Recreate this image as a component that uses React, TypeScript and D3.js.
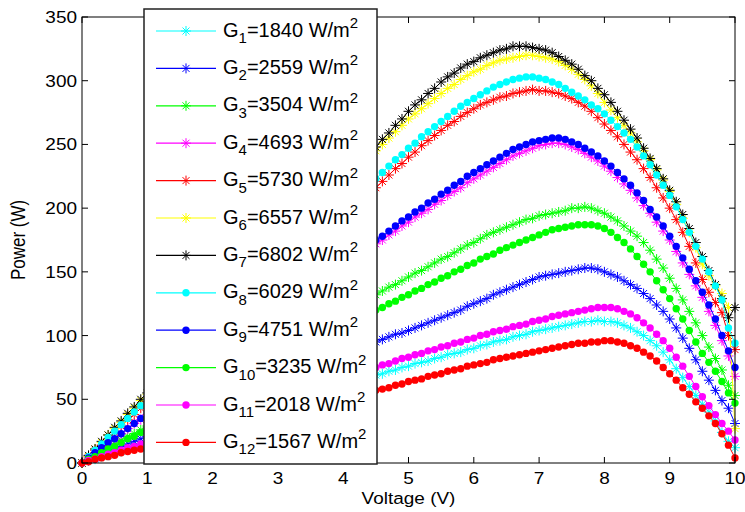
import React from "react";
import * as d3 from "d3";

const voltage = [
  0, 0.1, 0.2, 0.3, 0.4, 0.5, 0.6, 0.7, 0.8, 0.9,
  1, 1.1, 1.2, 1.3, 1.4, 1.5, 1.6, 1.7, 1.8, 1.9,
  2, 2.1, 2.2, 2.3, 2.4, 2.5, 2.6, 2.7, 2.8, 2.9,
  3, 3.1, 3.2, 3.3, 3.4, 3.5, 3.6, 3.7, 3.8, 3.9,
  4, 4.1, 4.2, 4.3, 4.4, 4.5, 4.6, 4.7, 4.8, 4.9,
  5, 5.1, 5.2, 5.3, 5.4, 5.5, 5.6, 5.7, 5.8, 5.9,
  6, 6.1, 6.2, 6.3, 6.4, 6.5, 6.6, 6.7, 6.8, 6.9,
  7, 7.1, 7.2, 7.3, 7.4, 7.5, 7.6, 7.7, 7.8, 7.9,
  8, 8.1, 8.2, 8.3, 8.4, 8.5, 8.6, 8.7, 8.8, 8.9,
  9, 9.1, 9.2, 9.3, 9.4, 9.5, 9.6, 9.7, 9.8, 9.9,
  10,
];

const g1 = [
  0, 2, 3, 5, 6, 8, 9, 11, 12, 14,
  15, 17, 18, 20, 21, 23, 24, 26, 28, 29,
  31, 32, 34, 35, 37, 38, 40, 41, 43, 44,
  46, 47, 49, 50, 52, 53, 55, 57, 58, 60,
  61, 63, 64, 66, 67, 69, 70, 72, 73, 75,
  76, 78, 79, 80, 82, 83, 85, 86, 87, 89,
  90, 92, 93, 95, 96, 97, 99, 100, 101, 103,
  104, 105, 106, 107, 108, 109, 110, 111, 111, 112,
  111, 111, 110, 108, 106, 103, 100, 96, 92, 87,
  81, 74, 67, 60, 53, 46, 40, 33, 24, 17,
  12,
];
const g2 = [
  0, 2, 4, 6, 8, 11, 13, 15, 17, 19,
  21, 23, 25, 27, 30, 32, 34, 36, 38, 40,
  42, 44, 46, 49, 51, 53, 55, 57, 59, 61,
  63, 65, 68, 70, 72, 74, 76, 78, 80, 82,
  84, 86, 88, 90, 93, 95, 97, 99, 101, 102,
  104, 106, 108, 110, 112, 114, 116, 118, 120, 123,
  125, 127, 129, 132, 134, 136, 138, 140, 142, 144,
  146, 147, 148, 149, 150, 151, 152, 153, 153, 152,
  150, 148, 146, 143, 140, 137, 133, 129, 124, 119,
  113, 106, 98, 90, 81, 72, 65, 57, 49, 43,
  31,
];
const g3 = [
  0, 3, 6, 9, 12, 15, 18, 21, 23, 26,
  29, 32, 35, 38, 41, 44, 47, 50, 53, 56,
  59, 62, 64, 67, 70, 73, 76, 79, 82, 85,
  88, 91, 94, 97, 100, 103, 105, 108, 111, 114,
  117, 120, 123, 126, 129, 132, 135, 138, 140, 143,
  146, 149, 151, 154, 157, 160, 162, 165, 168, 171,
  173, 176, 179, 181, 183, 185, 187, 189, 191, 192,
  194, 195, 196, 197, 198, 200, 200, 201, 200, 198,
  196, 193, 190, 186, 182, 178, 173, 167, 160, 153,
  145, 137, 128, 119, 110, 100, 91, 82, 73, 61,
  53,
];
const g4 = [
  0, 4, 8, 11, 15, 19, 23, 27, 31, 34,
  38, 42, 46, 50, 53, 57, 61, 65, 69, 73,
  76, 80, 84, 88, 92, 96, 99, 103, 107, 111,
  115, 118, 122, 126, 130, 134, 138, 141, 145, 149,
  153, 157, 160, 164, 168, 172, 175, 179, 182, 186,
  189, 193, 196, 199, 203, 206, 210, 213, 216, 220,
  223, 226, 229, 232, 235, 238, 241, 243, 245, 247,
  249, 250, 251, 251, 250, 248, 246, 243, 240, 237,
  233, 229, 224, 219, 214, 208, 202, 196, 189, 182,
  175, 166, 157, 148, 139, 130, 119, 108, 96, 84,
  68,
];
const g5 = [
  0, 5, 10, 14, 19, 24, 29, 34, 38, 43,
  48, 53, 58, 62, 67, 72, 77, 82, 86, 91,
  96, 101, 106, 110, 115, 120, 125, 130, 134, 139,
  144, 149, 154, 158, 163, 168, 173, 178, 182, 187,
  192, 197, 202, 206, 211, 216, 221, 226, 231, 235,
  240, 244, 249, 253, 257, 261, 265, 268, 272, 275,
  278, 281, 283, 285, 287, 288, 290, 291, 292, 293,
  292, 292, 291, 290, 288, 286, 283, 280, 276, 271,
  266, 261, 256, 250, 244, 238, 231, 224, 216, 208,
  200, 191, 181, 170, 157, 144, 134, 126, 118, 100,
  89,
];
const g6 = [
  0, 5, 11, 16, 22, 27, 32, 38, 43, 49,
  54, 59, 65, 70, 76, 81, 86, 92, 97, 103,
  108, 113, 119, 124, 130, 135, 140, 146, 151, 157,
  162, 167, 173, 178, 184, 189, 194, 200, 205, 211,
  216, 222, 228, 234, 239, 245, 250, 255, 260, 265,
  270, 274, 278, 282, 286, 290, 294, 297, 301, 304,
  307, 309, 312, 314, 316, 317, 318, 319, 320, 320,
  319, 318, 317, 315, 312, 309, 305, 301, 296, 290,
  283, 277, 271, 265, 259, 252, 245, 238, 230, 222,
  213, 203, 192, 181, 169, 156, 147, 139, 133, 122,
  27,
];
const g7 = [
  0, 6, 11, 17, 22, 28, 33, 39, 44, 50,
  55, 61, 66, 72, 77, 83, 88, 94, 99, 105,
  110, 116, 121, 127, 132, 138, 143, 149, 154, 160,
  165, 171, 176, 182, 187, 193, 198, 204, 209, 215,
  220, 226, 231, 237, 243, 248, 254, 259, 265, 270,
  276, 281, 285, 290, 294, 299, 303, 306, 310, 313,
  315, 318, 320, 322, 324, 325, 327, 327, 327, 326,
  325, 324, 322, 319, 316, 313, 309, 304, 300, 294,
  289, 283, 276, 269, 262, 255, 247, 239, 231, 223,
  214, 205, 195, 184, 173, 162, 151, 140, 129, 114,
  122,
];
const g8 = [
  0, 5, 10, 15, 20, 25, 30, 35, 40, 45,
  50, 54, 59, 64, 69, 74, 79, 84, 89, 94,
  99, 104, 109, 114, 119, 124, 129, 134, 139, 144,
  149, 154, 159, 164, 169, 174, 179, 184, 189, 194,
  199, 204, 209, 214, 218, 223, 228, 233, 238, 242,
  247, 251, 256, 260, 264, 268, 272, 276, 280, 283,
  286, 289, 292, 295, 297, 299, 301, 302, 303, 303,
  302, 301, 299, 297, 294, 291, 288, 285, 281, 278,
  274, 269, 264, 259, 254, 248, 241, 234, 226, 218,
  210, 201, 191, 181, 170, 160, 150, 139, 128, 106,
  94,
];
const g9 = [
  0, 4, 8, 12, 16, 19, 23, 27, 31, 35,
  39, 43, 47, 50, 54, 58, 62, 66, 70, 74,
  78, 81, 85, 89, 93, 97, 101, 105, 109, 113,
  116, 120, 124, 128, 132, 136, 140, 144, 147, 151,
  155, 159, 163, 167, 171, 175, 178, 182, 186, 190,
  193, 197, 200, 204, 207, 211, 214, 218, 221, 225,
  228, 231, 234, 237, 240, 243, 246, 248, 250, 252,
  253, 254, 255, 255, 254, 252, 250, 247, 244, 241,
  237, 233, 228, 223, 218, 212, 206, 199, 193, 186,
  178, 170, 161, 152, 143, 134, 124, 113, 100, 88,
  75,
];
const g10 = [
  0, 3, 5, 8, 11, 13, 16, 19, 21, 24,
  27, 29, 32, 35, 37, 40, 43, 45, 48, 51,
  53, 56, 59, 61, 64, 67, 69, 72, 75, 77,
  80, 83, 85, 88, 91, 93, 96, 99, 101, 104,
  107, 109, 112, 115, 117, 120, 122, 125, 127, 130,
  132, 135, 137, 140, 142, 145, 147, 150, 152, 155,
  157, 160, 162, 164, 167, 169, 171, 173, 175, 177,
  179, 181, 183, 184, 185, 186, 187, 187, 187, 186,
  184, 181, 177, 173, 168, 162, 156, 150, 143, 136,
  129, 121, 113, 104, 95, 86, 79, 72, 64, 55,
  47,
];
const g11 = [
  0, 2, 3, 5, 7, 8, 10, 12, 13, 15,
  17, 18, 20, 22, 23, 25, 27, 28, 30, 32,
  33, 35, 37, 38, 40, 42, 43, 45, 47, 48,
  50, 52, 53, 55, 57, 58, 60, 62, 63, 65,
  67, 68, 70, 72, 73, 75, 77, 78, 80, 82,
  83, 85, 86, 88, 89, 91, 92, 94, 95, 97,
  98, 100, 101, 103, 104, 105, 107, 108, 109, 111,
  112, 113, 115, 116, 117, 118, 119, 120, 121, 122,
  122, 122, 121, 119, 117, 114, 110, 106, 101, 96,
  90, 83, 76, 68, 60, 52, 45, 38, 31, 25,
  18,
];
const g12 = [
  0, 1, 3, 4, 5, 6, 8, 9, 10, 11,
  13, 14, 15, 16, 18, 19, 20, 21, 23, 24,
  25, 26, 28, 29, 30, 32, 33, 34, 35, 37,
  38, 39, 40, 42, 43, 44, 45, 47, 48, 49,
  50, 52, 53, 54, 55, 57, 58, 59, 61, 62,
  64, 65, 66, 68, 69, 70, 72, 73, 74, 76,
  77, 78, 79, 81, 82, 83, 84, 85, 86, 87,
  88, 89, 90, 91, 92, 93, 94, 94, 95, 95,
  96, 96, 95, 94, 92, 90, 87, 84, 80, 75,
  70, 65, 59, 54, 48, 43, 37, 31, 23, 14,
  4,
];

const seriesValues = [g1, g2, g3, g4, g5, g6, g7, g8, g9, g10, g11, g12];
const subscripts = ["1", "2", "3", "4", "5", "6", "7", "8", "9", "10", "11", "12"];
const irradiance = [1840, 2559, 3504, 4693, 5730, 6557, 6802, 6029, 4751, 3235, 2018, 1567];
const colors = [
  "#00ffff", "#0000ff", "#00ff00", "#ff00ff", "#ff0000", "#ffff00",
  "#000000", "#00ffff", "#0000ff", "#00ff00", "#ff00ff", "#ff0000",
];
const markers = ["star", "star", "star", "star", "star", "star", "star", "dot", "dot", "dot", "dot", "dot"];
const xTicks = [0, 1, 2, 3, 4, 5, 6, 7, 8, 9, 10];
const yTicks = [0, 50, 100, 150, 200, 250, 300, 350];

const FONT = "'Liberation Sans', Arial, Helvetica, sans-serif";
const STAR = "M-5,0L5,0M0,-5L0,5M-3.5,-3.5L3.5,3.5M-3.5,3.5L3.5,-3.5";

function Marker({ kind, color, cx, cy }: { kind: string; color: string; cx: number; cy: number }) {
  if (kind === "dot") return <circle cx={cx} cy={cy} r={3.7} fill={color} />;
  return <path d={STAR} transform={`translate(${cx},${cy})`} stroke={color} strokeWidth={1} fill="none" />;
}

export default function App() {
  const W = 745;
  const H = 512;
  const left = 82, right = 735, top = 17, bottom = 463;
  const x = d3.scaleLinear().domain([0, 10]).range([left, right]);
  const y = d3.scaleLinear().domain([0, 350]).range([bottom, top]);
  const line = d3
    .line<number>()
    .x((_, i) => x(voltage[i]))
    .y((d) => y(d));

  const lg = { x: 144, y: 9, w: 233, h: 455 };
  const rowY0 = 31;
  const rowStep = 37.4;
  const stretch = 1.15;

  return (
    <svg
      width={W}
      height={H}
      style={{ position: "absolute", left: 0, top: 0, background: "#fff" }}
      fontFamily={FONT}
    >
      <rect x={0} y={0} width={W} height={H} fill="#fff" />
      {seriesValues.map((vals, s) => (
        <g key={s}>
          <path d={line(vals) || ""} fill="none" stroke={colors[s]} strokeWidth={1} />
          {vals.map((v, i) => (
            <Marker key={i} kind={markers[s]} color={colors[s]} cx={x(voltage[i])} cy={y(v)} />
          ))}
        </g>
      ))}
      {/* axes box */}
      <rect x={left} y={top} width={right - left} height={bottom - top} fill="none" stroke="#000" strokeWidth={1} />
      {xTicks.map((t) => (
        <g key={"x" + t}>
          <line x1={x(t)} x2={x(t)} y1={bottom} y2={bottom - 6} stroke="#000" />
          <line x1={x(t)} x2={x(t)} y1={top} y2={top + 6} stroke="#000" />
          <text
            transform={`translate(${x(t)},484) scale(${stretch},1)`}
            fontSize={16.5}
            textAnchor="middle"
            fill="#000"
          >
            {t}
          </text>
        </g>
      ))}
      {yTicks.map((t) => (
        <g key={"y" + t}>
          <line x1={left} x2={left + 6} y1={y(t)} y2={y(t)} stroke="#000" />
          <line x1={right} x2={right - 6} y1={y(t)} y2={y(t)} stroke="#000" />
          <text
            transform={`translate(77,${y(t) + 6}) scale(${stretch},1)`}
            fontSize={16.5}
            textAnchor="end"
            fill="#000"
          >
            {t}
          </text>
        </g>
      ))}
      <text
        transform={`translate(${(left + right) / 2},504) scale(${stretch},1)`}
        fontSize={16.5}
        textAnchor="middle"
        fill="#000"
      >
        Voltage (V)
      </text>
      <text
        transform={`translate(25,${(top + bottom) / 2}) rotate(-90) scale(1,${stretch})`}
        fontSize={17}
        textAnchor="middle"
        fill="#000"
      >
        Power (W)
      </text>
      {/* legend */}
      <rect x={lg.x} y={lg.y} width={lg.w} height={lg.h} fill="#fff" stroke="#222" strokeWidth={1.5} />
      {subscripts.map((sub, s) => {
        const ry = rowY0 + s * rowStep;
        return (
          <g key={"l" + s}>
            <line x1={156} x2={216} y1={ry} y2={ry} stroke={colors[s]} strokeWidth={1.2} />
            <Marker kind={markers[s]} color={colors[s]} cx={186} cy={ry} />
            <text x={223} y={ry + 5.5} fontSize={20} fill="#000">
              G
              <tspan fontSize={15} y={ry + 12}>
                {sub}
              </tspan>
              <tspan y={ry + 5.5}>{`=${irradiance[s]} W/m`}</tspan>
              <tspan fontSize={15} y={ry - 3}>
                2
              </tspan>
            </text>
          </g>
        );
      })}
    </svg>
  );
}
